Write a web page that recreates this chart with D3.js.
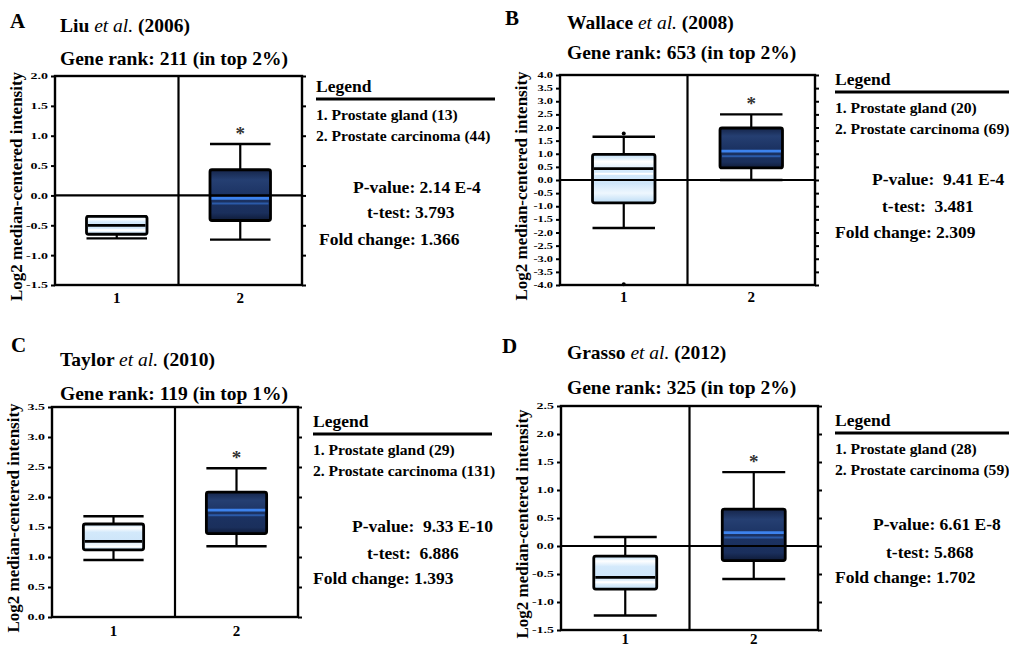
<!DOCTYPE html>
<meta charset="utf-8">
<head>
<style>
  body { margin: 0; background: #fff; }
  text { font-family: "Liberation Serif", "Times New Roman", serif; font-weight: bold; fill: #000; }
  .axis .domain { display: none; }
  .axis .tick line { stroke: #000; stroke-width: 2px; }
</style>
</head>
<body>
<div id="chart"></div>
<script src="https://d3js.org/d3.v7.min.js"></script>
<script>
// ---- data ----
var panelLetters = ["A", "B", "C", "D"];
var authors = ["Liu", "Wallace", "Taylor", "Grasso"];
var years = ["(2006)", "(2008)", "(2010)", "(2012)"];
var geneRanks = ["Gene rank: 211 (in top 2%)", "Gene rank: 653 (in top 2%)",
                 "Gene rank: 119 (in top 1%)", "Gene rank: 325 (in top 2%)"];
var groups = ["1", "2"];
var normalCounts = [13, 20, 29, 28];
var tumorCounts = [44, 69, 131, 59];
var pValues = ["P-value: 2.14 E-4", "P-value:  9.41 E-4", "P-value:  9.33 E-10", "P-value: 6.61 E-8"];
var tTests = ["t-test: 3.793", "t-test:  3.481", "t-test:  6.886", "t-test: 5.868"];
var foldChanges = ["Fold change: 1.366", "Fold change: 2.309", "Fold change: 1.393", "Fold change: 1.702"];
var yDomains = [[-1.5, 2.0], [-4.0, 4.0], [0.0, 3.5], [-1.5, 2.5]];
// box stats: [low whisker, q1, median, q3, high whisker]
var normalBoxes = [[-0.72, -0.65, -0.5, -0.35, -0.35],
                   [-1.83, -0.87, 0.43, 0.98, 1.65],
                   [0.95, 1.12, 1.26, 1.55, 1.68],
                   [-1.24, -0.77, -0.56, -0.18, 0.16]];
var tumorBoxes = [[-0.74, -0.42, -0.05, 0.43, 0.86],
                  [0.0, 0.46, 1.1, 1.98, 2.5],
                  [1.18, 1.39, 1.78, 2.08, 2.48],
                  [-0.59, -0.26, 0.24, 0.66, 1.32]];
var normalOutliers = [[], [1.77, -3.97], [], []];

// ---- layout (pixels) ----
var layout = [
  {x0: 55, x1: 302, y0: 76, y1: 285, letter: [10, 28], title: [60, 32], rank: [60, 65],
   leg: [316, 92], legEnd: 495, pv: [353, 193], tt: [367, 218], fc: [319, 245], tick: 9, xl: 303},
  {x0: 560, x1: 815, y0: 75, y1: 285, letter: [505, 25], title: [567, 29], rank: [567, 59],
   leg: [835, 85], legEnd: 1009, pv: [872, 185], tt: [882, 212], fc: [835, 238], tick: 8, xl: 302},
  {x0: 52, x1: 298, y0: 407, y1: 617, letter: [11, 352], title: [60, 366], rank: [60, 400],
   leg: [313, 427], legEnd: 492, pv: [352, 532], tt: [367, 559], fc: [313, 584], tick: 9, xl: 636},
  {x0: 561, x1: 818, y0: 406, y1: 630, letter: [502, 353], title: [567, 359], rank: [567, 394],
   leg: [835, 426], legEnd: 1009, pv: [873, 530], tt: [886, 558], fc: [835, 583], tick: 9, xl: 644}
];

var svg = d3.select("#chart").append("svg")
    .attr("width", 1009)
    .attr("height", 648);

// box fills
var defs = svg.append("defs");
var light = defs.append("linearGradient").attr("id", "lightFill")
    .attr("x1", 0).attr("y1", 0).attr("x2", 0).attr("y2", 1);
[[0, "#b9dbf5"], [0.15, "#ffffff"], [0.32, "#d3e9fb"], [0.6, "#cfe6fa"], [0.8, "#eef7fe"], [1, "#bcdcf5"]]
  .forEach(function(s) { light.append("stop").attr("offset", s[0]).attr("stop-color", s[1]); });
var dark = defs.append("linearGradient").attr("id", "darkFill")
    .attr("x1", 0).attr("y1", 0).attr("x2", 0).attr("y2", 1);
[[0, "#15254a"], [0.2, "#253f72"], [0.5, "#1c3363"], [0.85, "#1a2f5c"], [1, "#0f1b38"]]
  .forEach(function(s) { dark.append("stop").attr("offset", s[0]).attr("stop-color", s[1]); });

panelLetters.forEach(function(letter, i) {
  var L = layout[i];
  var dom = yDomains[i];
  var y = d3.scaleLinear().domain(dom).range([L.y1, L.y0]);
  var x = d3.scalePoint().domain(groups).range([L.x0, L.x1]).padding(0.5);
  var bw = x.step() * 0.49;
  var ticks = d3.range(Math.round((dom[1] - dom[0]) / 0.5) + 1).map(function(k) { return dom[0] + k * 0.5; });
  var g = svg.append("g");

  // letter and titles
  g.append("text").attr("x", L.letter[0]).attr("y", L.letter[1])
    .style("font-size", "21px").text(letter);
  var t = g.append("text").attr("x", L.title[0]).attr("y", L.title[1]).style("font-size", "19.5px");
  t.append("tspan").text(authors[i] + " ");
  t.append("tspan").style("font-style", "italic").style("font-weight", "normal").text("et al.");
  t.append("tspan").text(" " + years[i]);
  g.append("text").attr("x", L.rank[0]).attr("y", L.rank[1])
    .style("font-size", "19.5px").text(geneRanks[i]);

  // y axis label
  g.append("text")
    .attr("transform", "translate(" + (L.x0 - 33) + "," + ((L.y0 + L.y1) / 2 + 6) + ") rotate(-90)")
    .style("text-anchor", "middle")
    .style("font-size", "17px")
    .text("Log2 median-centered intensity");

  // axes
  var ya = g.append("g").attr("class", "axis")
    .attr("transform", "translate(" + L.x0 + ",0)")
    .call(d3.axisLeft(y).tickValues(ticks).tickSize(4).tickPadding(3)
      .tickFormat(function(d) { return d.toFixed(1); }));
  ya.selectAll("text")
    .style("font-size", L.tick + "px")
    .attr("x", -7 / 1.55)
    .attr("transform", "scale(1.55,1)");
  g.append("g").attr("class", "axis")
    .attr("transform", "translate(" + L.x1 + ",0)")
    .call(d3.axisRight(y).tickValues(ticks).tickSize(4).tickFormat(""));

  // x labels
  g.selectAll(".xl").data(groups).enter().append("text")
    .attr("x", function(d) { return x(d); })
    .attr("y", L.xl)
    .style("text-anchor", "middle")
    .style("font-size", "15px")
    .text(function(d) { return d; });

  // boxes
  var boxes = [normalBoxes[i], tumorBoxes[i]];
  boxes.forEach(function(b, j) {
    var cx = x(groups[j]);
    var bg = g.append("g");
    bg.append("line").attr("x1", cx).attr("x2", cx).attr("y1", y(b[0])).attr("y2", y(b[1]))
      .attr("stroke", "#000").attr("stroke-width", 2.2);
    bg.append("line").attr("x1", cx).attr("x2", cx).attr("y1", y(b[3])).attr("y2", y(b[4]))
      .attr("stroke", "#000").attr("stroke-width", 2.2);
    [b[0], b[4]].forEach(function(v) {
      bg.append("line").attr("x1", cx - bw / 2).attr("x2", cx + bw / 2)
        .attr("y1", y(v)).attr("y2", y(v))
        .attr("stroke", "#000").attr("stroke-width", 2.4);
    });
    bg.append("rect")
      .attr("x", cx - bw / 2).attr("width", bw)
      .attr("y", y(b[3])).attr("height", y(b[1]) - y(b[3]))
      .attr("rx", 2)
      .attr("fill", j === 0 ? "url(#lightFill)" : "url(#darkFill)")
      .attr("stroke", "#000").attr("stroke-width", 2.8);
  });

  // outliers
  g.selectAll(".out").data(normalOutliers[i]).enter().append("circle")
    .attr("cx", x(groups[0])).attr("cy", function(d) { return y(d); })
    .attr("r", 2).attr("fill", "#000");

  // zero line
  if (dom[0] < 0 && dom[1] > 0) {
    g.append("line").attr("x1", L.x0).attr("x2", L.x1).attr("y1", y(0)).attr("y2", y(0))
      .attr("stroke", "#000").attr("stroke-width", 2.2);
  }

  // medians
  boxes.forEach(function(b, j) {
    var cx = x(groups[j]);
    var my = y(b[2]);
    g.append("line").attr("x1", cx - bw / 2 + 2).attr("x2", cx + bw / 2 - 2)
      .attr("y1", my + 5).attr("y2", my + 5)
      .attr("stroke", j === 0 ? "#ffffff" : "#2b5aa8").attr("stroke-width", 2);
    g.append("line").attr("x1", cx - bw / 2 + 1.5).attr("x2", cx + bw / 2 - 1.5)
      .attr("y1", my).attr("y2", my)
      .attr("stroke", j === 0 ? "#000" : "#3d83ee").attr("stroke-width", 2.8);
  });

  // asterisk over tumour box
  g.append("text").attr("x", x(groups[1])).attr("y", y(tumorBoxes[i][4]) - 4)
    .style("text-anchor", "middle").style("font-size", "19px").style("fill", "#333")
    .text("*");

  // frame and middle divider
  g.append("rect").attr("x", L.x0).attr("y", L.y0)
    .attr("width", L.x1 - L.x0).attr("height", L.y1 - L.y0)
    .attr("fill", "none").attr("stroke", "#000").attr("stroke-width", 2.4);
  g.append("line").attr("x1", (L.x0 + L.x1) / 2).attr("x2", (L.x0 + L.x1) / 2)
    .attr("y1", L.y0).attr("y2", L.y1)
    .attr("stroke", "#000").attr("stroke-width", 2.2);

  // legend
  g.append("text").attr("x", L.leg[0]).attr("y", L.leg[1])
    .style("font-size", "17.5px").text("Legend");
  g.append("line").attr("x1", L.leg[0]).attr("x2", L.legEnd)
    .attr("y1", L.leg[1] + 7).attr("y2", L.leg[1] + 7)
    .attr("stroke", "#000").attr("stroke-width", 3);
  g.append("text").attr("x", L.leg[0]).attr("y", L.leg[1] + 28)
    .style("font-size", "15.6px").text("1. Prostate gland (" + normalCounts[i] + ")");
  g.append("text").attr("x", L.leg[0]).attr("y", L.leg[1] + 49)
    .style("font-size", "15.6px").text("2. Prostate carcinoma (" + tumorCounts[i] + ")");

  [[L.pv, pValues[i]], [L.tt, tTests[i]], [L.fc, foldChanges[i]]].forEach(function(s) {
    g.append("text").attr("x", s[0][0]).attr("y", s[0][1])
      .style("font-size", "17.5px").style("white-space", "pre")
      .text(s[1]);
  });
});
</script>
</body>
